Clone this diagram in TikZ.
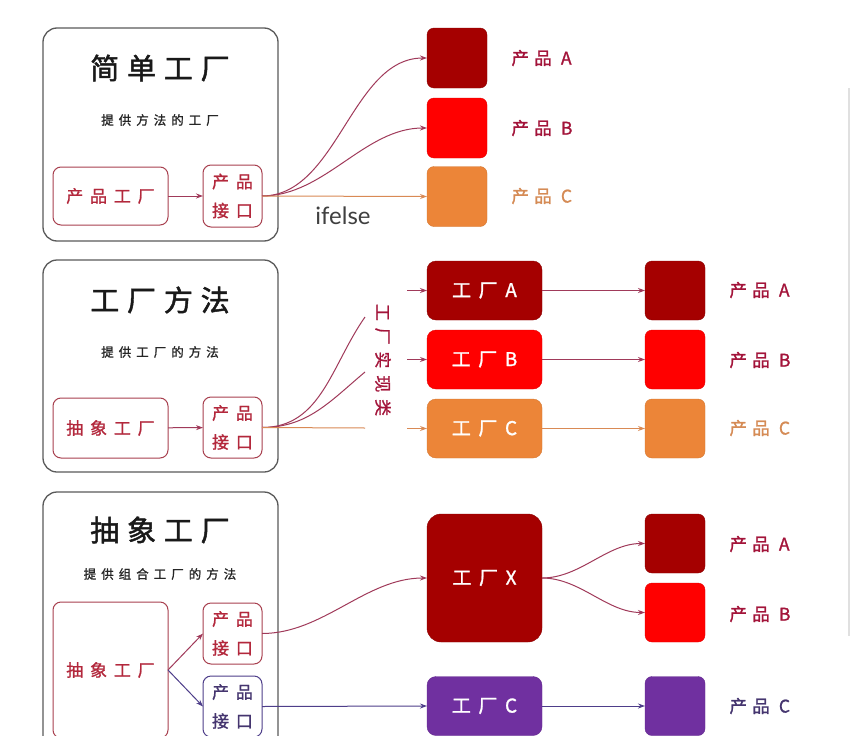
\documentclass[tikz,border=0pt]{standalone}
\usepackage{fontspec}
\usetikzlibrary{arrows.meta}
\newfontfamily\cjktitle[LetterSpace=27,FakeBold=1.6]{Noto Sans CJK SC}
\newfontfamily\cjksp[LetterSpace=40,FakeBold=1.2]{Noto Sans CJK SC}
\newfontfamily\cjklb[LetterSpace=30,FakeBold=1.2]{Noto Sans CJK SC}
\newfontfamily\latinf{Lato}
\definecolor{panelgray}{HTML}{5A5A5A}
\definecolor{boxred}{HTML}{A8404F}
\definecolor{txtred}{HTML}{B3283C}
\definecolor{linered}{HTML}{A03A5A}
\definecolor{lblred}{HTML}{A3143A}
\definecolor{darkred}{HTML}{A50000}
\definecolor{brightred}{HTML}{FF0000}
\definecolor{orangec}{HTML}{EC8538}
\definecolor{orangeline}{HTML}{D98A55}
\definecolor{orangelbl}{HTML}{D58B55}
\definecolor{purplec}{HTML}{7030A0}
\definecolor{purpleline}{HTML}{4E3E8A}
\definecolor{purplelbl}{HTML}{45356F}
\tikzset{
  panel/.style={draw=panelgray, line width=1.3pt, rounded corners=14pt, minimum width=235pt, inner sep=0pt, outer sep=0pt},
  ttl/.style={font=\cjktitle\fontsize{29}{32}\selectfont, text=black!90},
  sub/.style={font=\cjksp\fontsize{12.5}{15}\selectfont, text=black!85},
  ibox/.style={draw=boxred, line width=1pt, rounded corners=8pt, text=txtred, inner sep=0pt, outer sep=0pt,
    font=\cjksp\fontsize{17}{29}\selectfont, align=center},
  pbox/.style={ibox, draw=purpleline, text=purplelbl},
  sq/.style={rounded corners=7pt, minimum width=60pt, minimum height=60pt, inner sep=0pt, outer sep=0pt},
  fbox/.style={rounded corners=9pt, minimum width=115pt, minimum height=59pt, inner sep=0pt, outer sep=0pt,
    text=white, font=\cjksp\fontsize{19}{21}\selectfont},
  lbl/.style={anchor=west, font=\cjklb\fontsize{17.5}{19}\selectfont, text=lblred},
  conn/.style={draw=linered, line width=1pt, -{Stealth[length=7pt,width=5pt]}},
  plain/.style={draw=linered, line width=1pt},
}
\begin{document}
\begin{tikzpicture}[x=1pt,y=-1pt]
\useasboundingbox (0,0) rectangle (854,736);
\clip (0,0) rectangle (854,736);
\fill[white] (0,0) rectangle (854,736);

% faint right rule
\draw[black!12, line width=1.5pt] (849,88) -- (849,636);

% ================= Panel 1 =================
\node[panel, minimum height=213pt] (p1) at (160.5,134.5) {};
\node[ttl] (t1) at (160,68) {简单工厂};
\node[sub] (s1) at (160,120) {提供方法的工厂};
\node[ibox, minimum width=115pt, minimum height=58pt] (pf1) at (110.5,196) {产品工厂};
\node[ibox, minimum width=59pt, minimum height=62pt] (pi1) at (232.5,196) {产品\\接口};
\draw[conn] (pf1) -- (pi1);

\node[sq, fill=darkred, draw=darkred!85!black] (a1) at (457,58) {};
\node[sq, fill=brightred, draw=brightred!90!black] (b1) at (457,128) {};
\node[sq, fill=orangec, draw=orangec!90!black] (c1) at (457,196.5) {};
\node[lbl] (la1) at (508,58) {产品 A};
\node[lbl] (lb1) at (508,128) {产品 B};
\node[lbl, text=orangelbl] (lc1) at (508,196) {产品 C};

\draw[conn] (pi1.east) to[out=0,in=180,looseness=0.9] (a1.west);
\draw[conn] (pi1.east) to[out=0,in=180,looseness=0.9] (b1.west);
\draw[conn, draw=orangeline] (pi1.east) -- (c1.west);
\node[font=\latinf\fontsize{24}{26}\selectfont, text=black!75] (ife) at (343,216) {ifelse};

% ================= Panel 2 =================
\node[panel, minimum height=212pt] (p2) at (160.5,366) {};
\node[ttl] (t2) at (160,300) {工厂方法};
\node[sub] (s2) at (160,352) {提供工厂的方法};
\node[ibox, minimum width=115pt, minimum height=60pt] (af2) at (110.5,428) {抽象工厂};
\node[ibox, minimum width=59pt, minimum height=61pt] (pi2) at (232.5,427.5) {产品\\接口};
\draw[conn] (af2) -- (pi2);

\coordinate (e2a) at (365,317);
\coordinate (e2b) at (365,372);
\coordinate (e2c) at (365,428);
\draw[plain] (pi2.east) to[out=0,in=235,looseness=1.0] (e2a);
\draw[plain] (pi2.east) to[out=0,in=220,looseness=1.0] (e2b);
\draw[plain, draw=orangeline] (pi2.east) -- (e2c);
\node[rotate=-90, font=\cjksp\fontsize{17}{19}\selectfont, text=lblred] (impl) at (383,360) {工厂实现类};

\node[fbox, fill=darkred, draw=darkred!85!black] (fa2) at (484.5,290.5) {工厂A};
\node[fbox, fill=brightred, draw=brightred!90!black] (fb2) at (484.5,359.5) {工厂B};
\node[fbox, fill=orangec, draw=orangec!90!black] (fc2) at (484.5,428.5) {工厂C};
\coordinate (s2a) at (407,290.5);
\coordinate (s2b) at (407,359.5);
\coordinate (s2c) at (407,428.5);
\draw[conn] (s2a) -- (fa2.west);
\draw[conn] (s2b) -- (fb2.west);
\draw[conn, draw=orangeline] (s2c) -- (fc2.west);

\node[sq, minimum height=59pt, fill=darkred, draw=darkred!85!black] (a2) at (675,290.5) {};
\node[sq, minimum height=59pt, fill=brightred, draw=brightred!90!black] (b2) at (675,359.5) {};
\node[sq, minimum height=59pt, fill=orangec, draw=orangec!90!black] (c2) at (675,428.5) {};
\draw[conn] (fa2.east) -- (a2.west);
\draw[conn] (fb2.east) -- (b2.west);
\draw[conn, draw=orangeline] (fc2.east) -- (c2.west);
\node[lbl] (la2) at (726,290) {产品 A};
\node[lbl] (lb2) at (726,360) {产品 B};
\node[lbl, text=orangelbl] (lc2) at (726,428) {产品 C};

% ================= Panel 3 =================
\node[panel, minimum height=270pt] (p3) at (160.5,627) {};
\node[ttl] (t3) at (160,530) {抽象工厂};
\node[sub] (s3) at (160,574) {提供组合工厂的方法};
\node[ibox, minimum width=115pt, minimum height=136pt] (af3) at (110.5,670) {抽象工厂};
\node[ibox, minimum width=59pt, minimum height=61pt] (pi3a) at (232.5,633.5) {产品\\接口};
\node[pbox, minimum width=59pt, minimum height=61pt] (pi3b) at (232.5,706.5) {产品\\接口};
\draw[conn] (af3.east) -- (pi3a.west);
\draw[conn, draw=purpleline] (af3.east) -- (pi3b.west);

\node[fbox, minimum height=128pt, rounded corners=14pt, fill=darkred, draw=darkred!85!black] (fx3) at (484.5,578) {工厂X};
\node[fbox, fill=purplec, draw=purplec!90!black] (fc3) at (484.5,706) {工厂C};
\draw[conn] (pi3a.east) to[out=0,in=180,looseness=0.9] (fx3.west);
\draw[conn, draw=purpleline] (pi3b.east) -- (fc3.west);

\node[sq, minimum height=59pt, fill=darkred, draw=darkred!85!black] (a3) at (675,543.5) {};
\node[sq, minimum height=59pt, fill=brightred, draw=brightred!90!black] (b3) at (675,612.5) {};
\node[sq, minimum height=59pt, fill=purplec, draw=purplec!90!black] (c3) at (675,706) {};
\draw[conn] (fx3.east) to[out=0,in=180,looseness=0.9] (a3.west);
\draw[conn] (fx3.east) to[out=0,in=180,looseness=0.9] (b3.west);
\draw[conn, draw=purpleline] (fc3.east) -- (c3.west);
\node[lbl] (la3) at (726,544) {产品 A};
\node[lbl] (lb3) at (726,614) {产品 B};
\node[lbl, text=purplelbl] (lc3) at (726,706) {产品 C};
\end{tikzpicture}
\end{document}
